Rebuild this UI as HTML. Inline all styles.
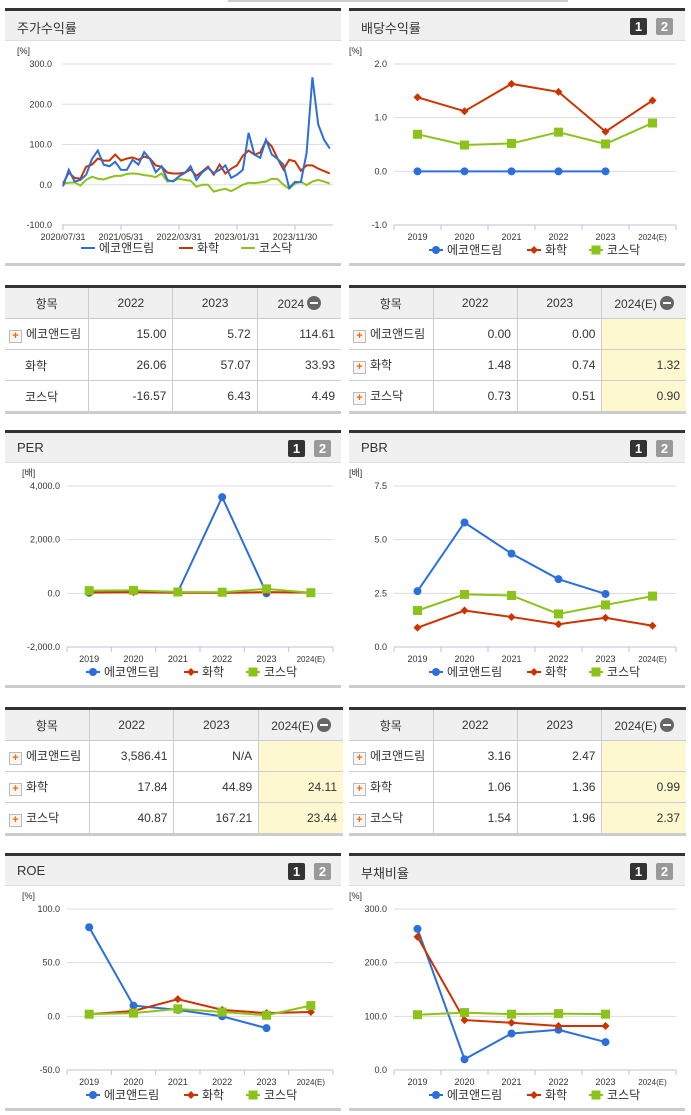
<!DOCTYPE html>
<html><head><meta charset="utf-8">
<style>
body{margin:0;width:691px;height:1115px;background:#fff;position:relative;overflow:hidden;font-family:"Liberation Sans","Noto Sans CJK KR",sans-serif;}
.panel{position:absolute;width:336px;height:258px;}
.hdr{position:absolute;left:0;top:0;width:100%;height:29px;background:#f0f0f0;border-top:3px solid #333;border-bottom:1px solid #ddd;}
.hdr span{position:absolute;left:12px;top:7px;font-size:13px;color:#333;}
.btn{position:absolute;top:7px;width:17px;height:17px;color:#fff;font-weight:bold;font-size:13px;text-align:center;line-height:17px;border-radius:2px;}
.bot{position:absolute;left:0;bottom:0;width:100%;height:3px;background:#ccc;}
svg{position:absolute;left:0;top:0;}
table{position:absolute;border-collapse:collapse;table-layout:fixed;font-size:12px;color:#333;border-top:3px solid #333;border-bottom:3px solid #ccc;}
td,th{border:1px solid #ccc;height:30px;padding:0 6px;white-space:nowrap;overflow:hidden;}
th{background:#f0f0f0;font-weight:normal;font-size:12px;width:25%;}
td{text-align:right;}
td.n{text-align:left;font-size:12px;padding-left:4px;}
tr td:first-child,tr th:first-child{border-left:none;}
tr td:last-child,tr th:last-child{border-right:none;}
.y{background:#fdf8cf;}
.pl{display:inline-block;width:11px;height:11px;border:1px solid #bbb;background:#f6f6f6;color:#f60;font-weight:bold;font-size:11px;line-height:11px;text-align:center;margin-right:4px;vertical-align:-1px;}
.mi{display:inline-block;width:14px;height:14px;border-radius:7px;background:#666;vertical-align:-2px;margin-left:3px;position:relative;}
.mi:after{content:"";position:absolute;left:3px;top:6px;width:8px;height:2px;background:#fff;}
</style></head><body>
<div style="position:absolute;left:228px;top:0;width:340px;height:2px;background:#ccc"></div>

<div class="panel" style="left:5px;top:8px"><div class="hdr"><span>주가수익률</span></div><div class="bot"></div></div>
<div class="panel" style="left:349px;top:8px"><div class="hdr"><span>배당수익률</span><div class="btn" style="left:281px;background:#333">1</div><div class="btn" style="left:307px;background:#999">2</div></div><div class="bot"></div></div>
<div class="panel" style="left:5px;top:430px"><div class="hdr"><span>PER</span><div class="btn" style="left:283px;background:#333">1</div><div class="btn" style="left:309px;background:#999">2</div></div><div class="bot"></div></div>
<div class="panel" style="left:349px;top:430px"><div class="hdr"><span>PBR</span><div class="btn" style="left:281px;background:#333">1</div><div class="btn" style="left:307px;background:#999">2</div></div><div class="bot"></div></div>
<div class="panel" style="left:5px;top:853px"><div class="hdr"><span>ROE</span><div class="btn" style="left:283px;background:#333">1</div><div class="btn" style="left:309px;background:#999">2</div></div><div class="bot"></div></div>
<div class="panel" style="left:349px;top:853px"><div class="hdr"><span>부채비율</span><div class="btn" style="left:281px;background:#333">1</div><div class="btn" style="left:307px;background:#999">2</div></div><div class="bot"></div></div>

<table style="left:5px;top:285px;width:336px">
<tr><th>항목</th><th>2022</th><th>2023</th><th>2024<span class="mi"></span></th></tr>
<tr><td class="n"><span class="pl">+</span>에코앤드림</td><td>15.00</td><td>5.72</td><td>114.61</td></tr>
<tr><td class="n" style="padding-left:20px">화학</td><td>26.06</td><td>57.07</td><td>33.93</td></tr>
<tr><td class="n" style="padding-left:20px">코스닥</td><td>-16.57</td><td>6.43</td><td>4.49</td></tr></table>

<table style="left:349px;top:285px;width:337px">
<tr><th>항목</th><th>2022</th><th>2023</th><th>2024(E)<span class="mi"></span></th></tr>
<tr><td class="n"><span class="pl">+</span>에코앤드림</td><td>0.00</td><td>0.00</td><td class="y"></td></tr>
<tr><td class="n"><span class="pl">+</span>화학</td><td>1.48</td><td>0.74</td><td class="y">1.32</td></tr>
<tr><td class="n"><span class="pl">+</span>코스닥</td><td>0.73</td><td>0.51</td><td class="y">0.90</td></tr></table>

<table style="left:5px;top:707px;width:338px">
<tr><th>항목</th><th>2022</th><th>2023</th><th>2024(E)<span class="mi"></span></th></tr>
<tr><td class="n"><span class="pl">+</span>에코앤드림</td><td>3,586.41</td><td>N/A</td><td class="y"></td></tr>
<tr><td class="n"><span class="pl">+</span>화학</td><td>17.84</td><td>44.89</td><td class="y">24.11</td></tr>
<tr><td class="n"><span class="pl">+</span>코스닥</td><td>40.87</td><td>167.21</td><td class="y">23.44</td></tr></table>

<table style="left:349px;top:707px;width:337px">
<tr><th>항목</th><th>2022</th><th>2023</th><th>2024(E)<span class="mi"></span></th></tr>
<tr><td class="n"><span class="pl">+</span>에코앤드림</td><td>3.16</td><td>2.47</td><td class="y"></td></tr>
<tr><td class="n"><span class="pl">+</span>화학</td><td>1.06</td><td>1.36</td><td class="y">0.99</td></tr>
<tr><td class="n"><span class="pl">+</span>코스닥</td><td>1.54</td><td>1.96</td><td class="y">2.37</td></tr></table>

<svg id="s" width="691" height="1115"></svg>
<script>
// chart 1: stock return (monthly)
const retTicks=[300,200,100,0,-100];
const retDateLabels=["2020/07/31","2021/05/31","2022/03/31","2023/01/31","2023/11/30"];
const retBlue=[-4,37,8,12,25,64,85,50,46,57,37,37,62,50,81,64,31,46,12,8,21,29,46,12,31,42,29,37,48,17,25,37,129,75,67,112,75,64,50,-8,7,6,79,267,150,112,90];
const retRed=[3,30,17,15,45,50,65,60,60,75,60,65,68,62,70,65,48,45,30,28,28,30,38,22,33,45,25,50,28,40,48,72,85,75,80,110,95,65,38,62,58,35,48,48,40,34,28];
const retGreen=[3,5,6,-2,12,20,15,13,18,22,22,27,28,27,24,22,19,28,8,10,15,12,10,-5,0,0,-17,-13,-10,-16,-8,0,5,4,6,8,15,14,0,-10,3,8,-1,8,12,8,3];
// yearly charts
const years=["2019","2020","2021","2022","2023","2024(E)"];
const divTicks=[2.0,1.0,0.0,-1.0];
const divBlue=[0,0,0,0,0,null];
const divRed=[1.38,1.12,1.63,1.48,0.74,1.32];
const divGreen=[0.69,0.49,0.52,0.73,0.51,0.90];
const perTicks=[4000,2000,0,-2000];
const perBlue=[20,90,50,3586.41,0,null];
const perRed=[30,40,20,17.84,44.89,24.11];
const perGreen=[100,110,50,40.87,167.21,23.44];
const pbrTicks=[7.5,5.0,2.5,0.0];
const pbrBlue=[2.6,5.8,4.35,3.16,2.47,null];
const pbrRed=[0.9,1.7,1.4,1.06,1.36,0.99];
const pbrGreen=[1.7,2.45,2.4,1.54,1.96,2.37];
const roeTicks=[100,50,0,-50];
const roeBlue=[83,10,6,0,-11,null];
const roeRed=[2,5,16,6,3,4];
const roeGreen=[2,3,7,4,1,10];
const debtTicks=[300,200,100,0];
const debtBlue=[263,20,68,75,52,null];
const debtRed=[248,93,88,82,82,null];
const debtGreen=[103,107,104,105,104,null];

const NS="http://www.w3.org/2000/svg";
const S=document.getElementById('s');
const BL="#2a6fdb",RD="#cc3300",GR="#8cc31a";
function mk(t,a,p){const e=document.createElementNS(NS,t);for(const k in a)e.setAttribute(k,a[k]);(p||S).appendChild(e);return e;}
function fmt(v,dec){let s=Math.abs(v).toFixed(dec);let [i,d]=s.split('.');i=i.replace(/\B(?=(\d{3})+(?!\d))/g,',');return (v<0?'-':'')+i+'.'+d;}
function axes(x0,x1,top,ticks,unit,labelRight,dec){
  const mx=ticks[0],mn=ticks[ticks.length-1];
  const y=v=>top+56+(mx-v)/(mx-mn)*161;
  let t=mk('text',{x:x0-45,y:top+46,'font-size':9,fill:'#333'});t.textContent=unit;
  
  ticks.forEach((v,i)=>{
    if(i<ticks.length-1){const g=mk('line',{x1:x0,x2:x1,y1:y(v),y2:y(v),stroke:'#ddd'});}
    const l=mk('text',{x:labelRight,y:y(v)+3,'font-size':9,fill:'#333','text-anchor':'end'});l.textContent=fmt(v,dec);
    
  });
  const ax=mk('line',{x1:x0,x2:x1,y1:y(mn),y2:y(mn),stroke:'#b8c4d8'});
  
  return y;
}
function legend(cx,y,markers){
  const items=[["에코앤드림",BL,'c'],["화학",RD,'d'],["코스닥",GR,'s']];
  let x=cx-92;
  items.forEach(([n,c,m],i)=>{
    const ln=mk('line',{x1:x,x2:x+14,y1:y,y2:y,stroke:c,'stroke-width':2});
    if(markers)marker(x+7,y,m,c);
    const t=mk('text',{x:x+18,y:y+4,'font-size':12,fill:'#333'});t.textContent=n;
    
    x+=18+(i==0?66:i==1?30:0)+14;
  });
}
function marker(x,y,m,c){
  let e;
  if(m=='c')e=mk('circle',{cx:x,cy:y,r:4,fill:c});
  else if(m=='d')e=mk('path',{d:`M${x},${y-4}L${x+4},${y}L${x},${y+4}L${x-4},${y}Z`,fill:c});
  else e=mk('rect',{x:x-4.5,y:y-4.5,width:9,height:9,fill:c});
  
}
function series(xs,y,vals,c,m){
  let pts=[];vals.forEach((v,i)=>{if(v!==null)pts.push([xs(i),y(v)]);});
  const p=mk('polyline',{points:pts.map(p=>p.join(',')).join(' '),fill:'none',stroke:c,'stroke-width':2});
  
  if(m)pts.forEach(q=>marker(q[0],q[1],m,c));
}
// chart 1
(function(){
  const x0=62,x1=333,top=8;
  const y=axes(x0,x1,top,retTicks,'[%]',52,1);
  const xs=i=>63+i*5.8;
  retDateLabels.forEach((l,i)=>{const t=mk('text',{x:xs(i*10),y:top+232,'font-size':9,fill:'#333','text-anchor':'middle'});t.textContent=l;
    mk('line',{x1:xs(i*10),x2:xs(i*10),y1:y(-100),y2:y(-100)+5,stroke:'#b8c4d8'});});
  series(xs,y,retGreen,GR);series(xs,y,retRed,RD);series(xs,y,retBlue,BL);
  legend(173,top+240,false);
})();
function yearChart(left,top,ticks,unit,dec,B,R,G){
  const x0=left?67:394,x1=left?333:676,lr=left?60:387;
  const y=axes(x0,x1,top,ticks,unit,lr,dec);
  const st=(x1-x0)/6,xs=i=>x0+st/2+i*st;
  const yb=y(ticks[ticks.length-1]);
  for(let i=0;i<=6;i++){mk('line',{x1:x0+i*st,x2:x0+i*st,y1:yb,y2:yb+5,stroke:'#b8c4d8'});}
  years.forEach((l,i)=>{const t=mk('text',{x:xs(i),y:top+232,'font-size':i==5?8:9,fill:'#333','text-anchor':'middle'});t.textContent=l;});
  series(xs,y,B,BL,'c');series(xs,y,R,RD,'d');series(xs,y,G,GR,'s');
  legend(left?178:521,top+242,true);
}
yearChart(false,8,divTicks,'[%]',1,divBlue,divRed,divGreen);
yearChart(true,430,perTicks,'[배]',1,perBlue,perRed,perGreen);
yearChart(false,430,pbrTicks,'[배]',1,pbrBlue,pbrRed,pbrGreen);
yearChart(true,853,roeTicks,'[%]',1,roeBlue,roeRed,roeGreen);
yearChart(false,853,debtTicks,'[%]',1,debtBlue,debtRed,debtGreen);
</script>
</body></html>
